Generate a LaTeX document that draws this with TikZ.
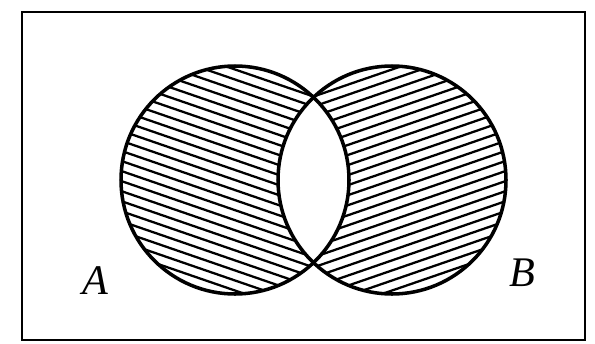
\documentclass[tikz,border=0pt]{standalone}
\usepackage{fontspec}
\setmainfont{Liberation Serif}
\tikzset{
  hatch/.style={line width=1.3pt},
  outline/.style={line width=2pt},
  setlabel/.style={font=\fontsize{24}{26}\selectfont\itshape}
}
\begin{document}
\begin{tikzpicture}
    \useasboundingbox (0,0) rectangle (11.9,6.86);
    \coordinate (ca) at (4.70,3.26);
    \coordinate (cb) at (7.84,3.26);

    % frame
    \draw[line width=1.3pt] (0.44,0.06) rectangle (11.70,6.62);

    % A minus B
    \begin{scope}
        \clip (ca) circle (2.28);
        \begin{scope}[shift={(ca)}, rotate=-19]
            \foreach \k in {-13,...,13}
                \draw[hatch] (-3,\k*0.19) -- (3,\k*0.19);
        \end{scope}
        \fill[white] (cb) circle (2.28);
    \end{scope}

    % B minus A
    \begin{scope}
        \clip (cb) circle (2.28);
        \begin{scope}[shift={(cb)}, rotate=19]
            \foreach \k in {-13,...,13}
                \draw[hatch] (-3,\k*0.19) -- (3,\k*0.19);
        \end{scope}
        \fill[white] (ca) circle (2.28);
    \end{scope}

    % outlines
    \draw[outline] (ca) circle (2.28);
    \draw[outline] (cb) circle (2.28);

    \node[setlabel] (labA) at (1.90,1.24) {A};
    \node[setlabel] (labB) at (10.44,1.40) {B};
\end{tikzpicture}
\end{document}
